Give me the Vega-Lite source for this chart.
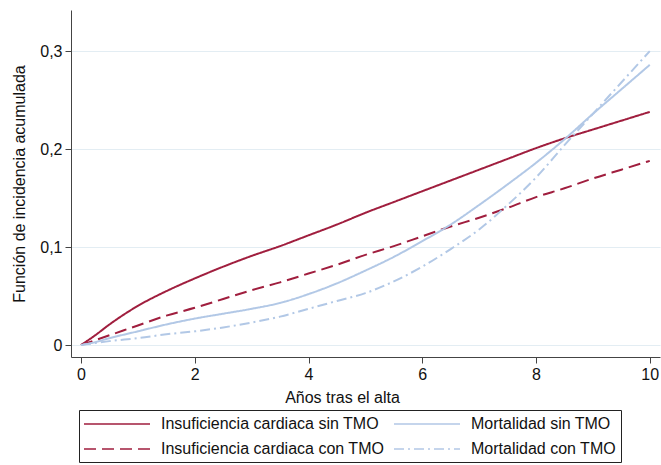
{
  "$schema": "https://vega.github.io/schema/vega-lite/v6.json",
  "width": 589,
  "height": 347,
  "autosize": {"type": "none"},
  "padding": {"left": 71, "top": 10, "right": 1, "bottom": 108},
  "background": "white",
  "config": {
    "font": "Liberation Sans",
    "view": {"stroke": null}
  },
  "data": {"values": [
    {"t":0,"y":0,"serie":"Insuficiencia cardiaca sin TMO"},
    {"t":0.25,"y":0.010,"serie":"Insuficiencia cardiaca sin TMO"},
    {"t":0.5,"y":0.021,"serie":"Insuficiencia cardiaca sin TMO"},
    {"t":1,"y":0.040,"serie":"Insuficiencia cardiaca sin TMO"},
    {"t":1.5,"y":0.055,"serie":"Insuficiencia cardiaca sin TMO"},
    {"t":2,"y":0.068,"serie":"Insuficiencia cardiaca sin TMO"},
    {"t":2.5,"y":0.080,"serie":"Insuficiencia cardiaca sin TMO"},
    {"t":3,"y":0.091,"serie":"Insuficiencia cardiaca sin TMO"},
    {"t":3.5,"y":0.101,"serie":"Insuficiencia cardiaca sin TMO"},
    {"t":4,"y":0.112,"serie":"Insuficiencia cardiaca sin TMO"},
    {"t":4.5,"y":0.123,"serie":"Insuficiencia cardiaca sin TMO"},
    {"t":5,"y":0.135,"serie":"Insuficiencia cardiaca sin TMO"},
    {"t":5.5,"y":0.146,"serie":"Insuficiencia cardiaca sin TMO"},
    {"t":6,"y":0.157,"serie":"Insuficiencia cardiaca sin TMO"},
    {"t":6.5,"y":0.168,"serie":"Insuficiencia cardiaca sin TMO"},
    {"t":7,"y":0.179,"serie":"Insuficiencia cardiaca sin TMO"},
    {"t":7.5,"y":0.190,"serie":"Insuficiencia cardiaca sin TMO"},
    {"t":8,"y":0.201,"serie":"Insuficiencia cardiaca sin TMO"},
    {"t":8.5,"y":0.211,"serie":"Insuficiencia cardiaca sin TMO"},
    {"t":9,"y":0.220,"serie":"Insuficiencia cardiaca sin TMO"},
    {"t":9.5,"y":0.229,"serie":"Insuficiencia cardiaca sin TMO"},
    {"t":10,"y":0.238,"serie":"Insuficiencia cardiaca sin TMO"},
    {"t":0,"y":0,"serie":"Insuficiencia cardiaca con TMO"},
    {"t":0.25,"y":0.005,"serie":"Insuficiencia cardiaca con TMO"},
    {"t":0.5,"y":0.010,"serie":"Insuficiencia cardiaca con TMO"},
    {"t":1,"y":0.020,"serie":"Insuficiencia cardiaca con TMO"},
    {"t":1.5,"y":0.030,"serie":"Insuficiencia cardiaca con TMO"},
    {"t":2,"y":0.038,"serie":"Insuficiencia cardiaca con TMO"},
    {"t":2.5,"y":0.047,"serie":"Insuficiencia cardiaca con TMO"},
    {"t":3,"y":0.056,"serie":"Insuficiencia cardiaca con TMO"},
    {"t":3.5,"y":0.064,"serie":"Insuficiencia cardiaca con TMO"},
    {"t":4,"y":0.073,"serie":"Insuficiencia cardiaca con TMO"},
    {"t":4.5,"y":0.082,"serie":"Insuficiencia cardiaca con TMO"},
    {"t":5,"y":0.092,"serie":"Insuficiencia cardiaca con TMO"},
    {"t":5.5,"y":0.101,"serie":"Insuficiencia cardiaca con TMO"},
    {"t":6,"y":0.111,"serie":"Insuficiencia cardiaca con TMO"},
    {"t":6.5,"y":0.121,"serie":"Insuficiencia cardiaca con TMO"},
    {"t":7,"y":0.130,"serie":"Insuficiencia cardiaca con TMO"},
    {"t":7.5,"y":0.140,"serie":"Insuficiencia cardiaca con TMO"},
    {"t":8,"y":0.151,"serie":"Insuficiencia cardiaca con TMO"},
    {"t":8.5,"y":0.160,"serie":"Insuficiencia cardiaca con TMO"},
    {"t":9,"y":0.170,"serie":"Insuficiencia cardiaca con TMO"},
    {"t":9.5,"y":0.179,"serie":"Insuficiencia cardiaca con TMO"},
    {"t":10,"y":0.188,"serie":"Insuficiencia cardiaca con TMO"},
    {"t":0,"y":0,"serie":"Mortalidad sin TMO"},
    {"t":0.25,"y":0.003,"serie":"Mortalidad sin TMO"},
    {"t":0.5,"y":0.007,"serie":"Mortalidad sin TMO"},
    {"t":1,"y":0.014,"serie":"Mortalidad sin TMO"},
    {"t":1.5,"y":0.021,"serie":"Mortalidad sin TMO"},
    {"t":2,"y":0.027,"serie":"Mortalidad sin TMO"},
    {"t":2.5,"y":0.032,"serie":"Mortalidad sin TMO"},
    {"t":3,"y":0.037,"serie":"Mortalidad sin TMO"},
    {"t":3.5,"y":0.043,"serie":"Mortalidad sin TMO"},
    {"t":4,"y":0.052,"serie":"Mortalidad sin TMO"},
    {"t":4.5,"y":0.063,"serie":"Mortalidad sin TMO"},
    {"t":5,"y":0.076,"serie":"Mortalidad sin TMO"},
    {"t":5.5,"y":0.090,"serie":"Mortalidad sin TMO"},
    {"t":6,"y":0.106,"serie":"Mortalidad sin TMO"},
    {"t":6.5,"y":0.123,"serie":"Mortalidad sin TMO"},
    {"t":7,"y":0.143,"serie":"Mortalidad sin TMO"},
    {"t":7.5,"y":0.164,"serie":"Mortalidad sin TMO"},
    {"t":8,"y":0.186,"serie":"Mortalidad sin TMO"},
    {"t":8.5,"y":0.210,"serie":"Mortalidad sin TMO"},
    {"t":9,"y":0.236,"serie":"Mortalidad sin TMO"},
    {"t":9.5,"y":0.261,"serie":"Mortalidad sin TMO"},
    {"t":10,"y":0.286,"serie":"Mortalidad sin TMO"},
    {"t":0,"y":0,"serie":"Mortalidad con TMO"},
    {"t":0.25,"y":0.002,"serie":"Mortalidad con TMO"},
    {"t":0.5,"y":0.004,"serie":"Mortalidad con TMO"},
    {"t":1,"y":0.007,"serie":"Mortalidad con TMO"},
    {"t":1.5,"y":0.011,"serie":"Mortalidad con TMO"},
    {"t":2,"y":0.014,"serie":"Mortalidad con TMO"},
    {"t":2.5,"y":0.018,"serie":"Mortalidad con TMO"},
    {"t":3,"y":0.023,"serie":"Mortalidad con TMO"},
    {"t":3.5,"y":0.029,"serie":"Mortalidad con TMO"},
    {"t":4,"y":0.037,"serie":"Mortalidad con TMO"},
    {"t":4.5,"y":0.045,"serie":"Mortalidad con TMO"},
    {"t":5,"y":0.053,"serie":"Mortalidad con TMO"},
    {"t":5.5,"y":0.065,"serie":"Mortalidad con TMO"},
    {"t":6,"y":0.080,"serie":"Mortalidad con TMO"},
    {"t":6.5,"y":0.098,"serie":"Mortalidad con TMO"},
    {"t":7,"y":0.118,"serie":"Mortalidad con TMO"},
    {"t":7.5,"y":0.143,"serie":"Mortalidad con TMO"},
    {"t":8,"y":0.171,"serie":"Mortalidad con TMO"},
    {"t":8.5,"y":0.204,"serie":"Mortalidad con TMO"},
    {"t":9,"y":0.236,"serie":"Mortalidad con TMO"},
    {"t":9.5,"y":0.268,"serie":"Mortalidad con TMO"},
    {"t":10,"y":0.300,"serie":"Mortalidad con TMO"}
  ]},
  "mark": {"type": "line", "strokeWidth": 2, "interpolate": "monotone"},
  "encoding": {
    "x": {
      "field": "t", "type": "quantitative",
      "scale": {"domain": [-0.176, 10.18], "nice": false, "zero": false},
      "axis": {"values": [0, 2, 4, 6, 8, 10], "title": "Años tras el alta", "grid": false, "tickSize": 6, "labelPadding": 3, "titlePadding": 7, "titleX": 271,
        "labelFont": "Liberation Sans", "titleFont": "Liberation Sans", "labelFontSize": 16, "titleFontSize": 16, "titleFontWeight": "normal", "labelColor": "#111", "titleColor": "#111", "domainColor": "#444", "tickColor": "#444"}
    },
    "y": {
      "field": "y", "type": "quantitative",
      "scale": {"domain": [-0.0122, 0.342], "nice": false, "zero": false},
      "axis": {"values": [0, 0.1, 0.2, 0.3], "labelExpr": "replace(format(datum.value, '.1~f'), '.', ',')", "title": "Función de incidencia acumulada", "grid": true, "gridColor": "#E3EDF3", "gridWidth": 1, "tickSize": 6, "labelPadding": 3, "titlePadding": 12,
        "labelFont": "Liberation Sans", "titleFont": "Liberation Sans", "labelFontSize": 16, "titleFontSize": 16, "titleFontWeight": "normal", "labelColor": "#111", "titleColor": "#111", "domainColor": "#444", "tickColor": "#444"}
    },
    "color": {
      "field": "serie", "type": "nominal",
      "scale": {
        "domain": ["Insuficiencia cardiaca sin TMO", "Mortalidad sin TMO", "Insuficiencia cardiaca con TMO", "Mortalidad con TMO"],
        "range": ["#A01E3E", "#B2C8E6", "#A01E3E", "#B2C8E6"]
      },
      "legend": {
        "title": null, "orient": "none", "legendX": 8, "legendY": 400,
        "columns": 2, "direction": "horizontal",
        "symbolType": "M-1.125,0H7.125", "symbolSize": 256, "symbolStrokeWidth": 1.6,
        "labelFont": "Liberation Sans", "labelFontSize": 16, "labelColor": "#111", "labelOffset": 59,
        "columnPadding": 5, "rowPadding": 8, "padding": 5,
        "strokeColor": "#222", "fillColor": "white", "labelLimit": 300
      }
    },
    "strokeDash": {
      "field": "serie", "type": "nominal",
      "scale": {
        "domain": ["Insuficiencia cardiaca sin TMO", "Mortalidad sin TMO", "Insuficiencia cardiaca con TMO", "Mortalidad con TMO"],
        "range": [[1, 0], [1, 0], [12, 6], [10, 4, 2, 4]]
      }
    }
  }
}
